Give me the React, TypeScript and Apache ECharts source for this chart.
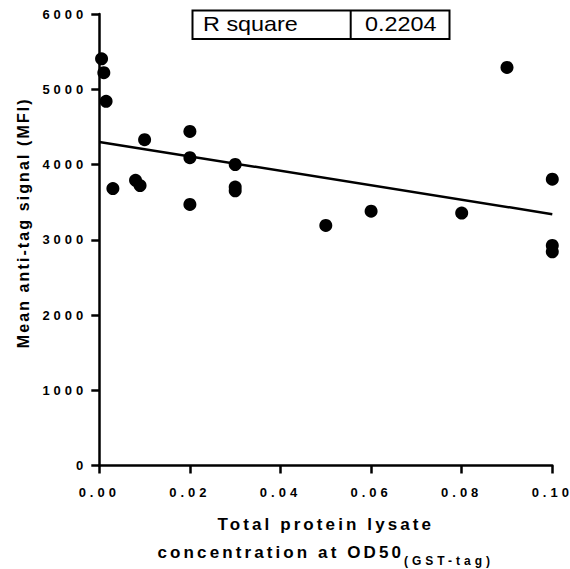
import React, { useEffect, useRef } from "react";
import * as echarts from "echarts";

// Lysate concentration (OD50, GST-tag) against mean anti-tag signal
const concentration = [
  0.0005, 0.001, 0.0015, 0.003, 0.008, 0.009, 0.01, 0.02, 0.02, 0.02,
  0.03, 0.03, 0.03, 0.05, 0.06, 0.08, 0.09, 0.1, 0.1, 0.1,
];
const signal = [
  5405, 5220, 4840, 3680, 3790, 3720, 4330, 4440, 4090, 3470,
  4000, 3700, 3650, 3190, 3380, 3355, 5290, 3805, 2925, 2840,
];

// Linear fit end points and its goodness of fit
const fitX = [0, 0.1];
const fitY = [4300, 3340];
const rSquareLabel = "R square";
const rSquare = "0.2204";

const FONT = "Liberation Sans, Arial, Helvetica, sans-serif";

// Letter spacing (px) applied to bold texts, keyed by font size
const SPACING: Record<string, number> = { "13": 4.0, "17": 3.1, "16": 2.1, "12": 4 };

const measureCtx = document.createElement("canvas").getContext("2d") as CanvasRenderingContext2D;
echarts.setPlatformAPI({
  measureText(text: string, font?: string) {
    measureCtx.font = font || "12px sans-serif";
    const w = measureCtx.measureText(text).width;
    if (!font || !/bold/.test(font) || text === "国") return { width: w };
    const m = font.match(/(\d+(?:\.\d+)?)px/);
    const s = m ? SPACING[m[1]] || 0 : 0;
    return { width: w + s * text.length };
  },
} as any);

const spacingCss = Object.keys(SPACING)
  .map(
    (k) =>
      `.lysate-chart text[style*="bold"][style*="${k}px"]{letter-spacing:${SPACING[k]}px;}`
  )
  .join("\n");

export default function App() {
  const ref = useRef<HTMLDivElement>(null);

  useEffect(() => {
    if (!ref.current) return;
    const chart = echarts.init(ref.current, null, { renderer: "svg" });

    const points = concentration.map((x, i) => [x, signal[i]]);
    const fit = fitX.map((x, i) => [x, fitY[i]]);

    const axisLine = { show: true, lineStyle: { color: "#000", width: 2.5 } };
    const axisTick = { show: true, length: 8, lineStyle: { color: "#000", width: 2.5 } };
    const tickLabel = { color: "#000", fontSize: 13, fontWeight: "bold" as const, fontFamily: FONT };

    chart.setOption({
      animation: false,
      backgroundColor: "#fff",
      grid: {
        left: 99.3,
        right: 17.7,
        top: 14,
        bottom: 103.5,
        outerBoundsMode: "none",
        containLabel: false,
      },
      xAxis: {
        type: "value",
        min: 0,
        max: 0.1,
        interval: 0.02,
        splitLine: { show: false },
        axisLine,
        axisTick,
        axisLabel: {
          ...tickLabel,
          margin: 20,
          formatter: (v: number) => v.toFixed(2),
        },
        name: "{t|Total protein lysate}\n{t|concentration at OD50}{s|(GST-tag)}",
        nameLocation: "middle",
        nameGap: 45,
        nameTextStyle: {
          color: "#000",
          rich: {
            t: { fontSize: 17, fontWeight: "bold", fontFamily: FONT, color: "#000", lineHeight: 28 },
            s: {
              fontSize: 12,
              fontWeight: "bold",
              fontFamily: FONT,
              color: "#000",
              lineHeight: 20,
              verticalAlign: "bottom",
            },
          },
        },
      },
      yAxis: {
        type: "value",
        min: 0,
        max: 6000,
        interval: 1000,
        splitLine: { show: false },
        axisLine,
        axisTick,
        axisLabel: { ...tickLabel, margin: 12, formatter: (v: number) => String(v) },
        name: "Mean anti-tag signal (MFI)",
        nameLocation: "middle",
        nameGap: 65,
        nameTextStyle: {
          color: "#000",
          fontSize: 16,
          fontWeight: "bold",
          fontFamily: FONT,
          padding: [0, 0, 0, 34],
        },
      },
      series: [
        {
          type: "line",
          data: fit,
          showSymbol: false,
          symbol: "none",
          lineStyle: { color: "#000", width: 2.5 },
          silent: true,
          z: 2,
        },
        {
          type: "scatter",
          data: points,
          symbol: "circle",
          symbolSize: 13,
          itemStyle: { color: "#000", opacity: 1 },
          z: 3,
        },
      ],
      graphic: [
        {
          type: "group",
          z: 10,
          children: [
            {
              type: "rect",
              shape: { x: 192.5, y: 10.5, width: 257, height: 28.5 },
              style: { fill: "#fff", stroke: "#000", lineWidth: 2 },
            },
            {
              type: "line",
              shape: { x1: 350.7, y1: 10.5, x2: 350.7, y2: 39 },
              style: { stroke: "#000", lineWidth: 2 },
            },
            {
              type: "text",
              x: 203,
              y: 24.5,
              scaleX: 1.17,
              style: {
                text: rSquareLabel,
                fontSize: 20,
                fontFamily: FONT,
                fill: "#000",
                align: "left",
                verticalAlign: "middle",
              },
            },
            {
              type: "text",
              x: 400.7,
              y: 24.5,
              scaleX: 1.17,
              style: {
                text: rSquare,
                fontSize: 20,
                fontFamily: FONT,
                fill: "#000",
                align: "center",
                verticalAlign: "middle",
              },
            },
          ],
        },
      ],
    });

    return () => chart.dispose();
  }, []);

  return (
    <>
      <style>{spacingCss}</style>
      <div
        ref={ref}
        className="lysate-chart"
        style={{ position: "fixed", left: 0, top: 0, width: 570, height: 569 }}
      />
    </>
  );
}
